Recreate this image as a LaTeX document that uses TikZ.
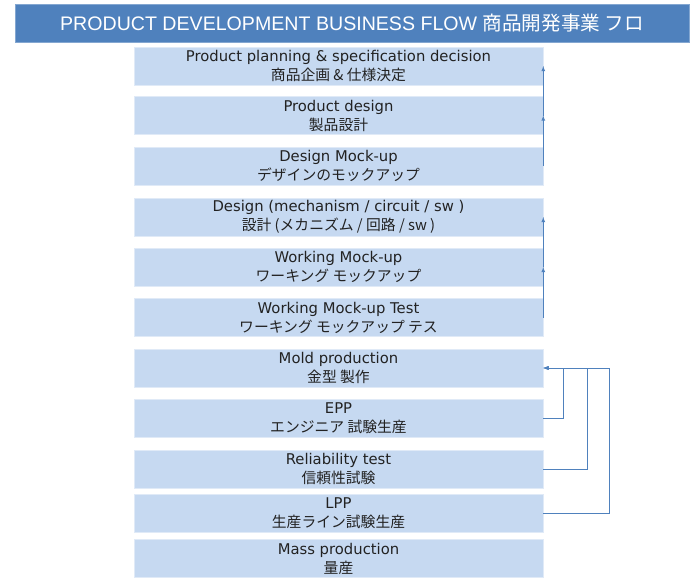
\documentclass[tikz,border=0pt]{standalone}
\usepackage{fontspec}
\setmainfont{Liberation Sans}
\newfontfamily\stepfont{DejaVu Sans}
\newfontfamily\jp{Noto Sans CJK JP}
\usetikzlibrary{arrows}
\definecolor{TitleBlue}{HTML}{4F81BD}
\definecolor{StepBlue}{HTML}{C6D9F1}
\definecolor{LinkBlue}{HTML}{4F81BD}
\definecolor{StepText}{HTML}{222222}
\tikzset{
  TitleBar/.style = {fill=TitleBlue, draw=TitleBlue!70!white, line width=0.8pt,
    minimum width=674pt, minimum height=38pt, inner sep=0pt, text=white,
    font=\fontsize{19.6}{24}\selectfont},
  StepBox/.style = {fill=StepBlue, draw=StepBlue!55!white, line width=0.6pt,
    minimum width=409pt, minimum height=38pt, inner sep=0pt, align=center,
    text=StepText, font=\stepfont\fontsize{14.8}{19}\selectfont},
  Link/.style = {draw=LinkBlue, line width=0.8pt, >=latex}
}

\begin{document}
\begin{tikzpicture}[x=1pt,y=-1pt]
   \useasboundingbox (0,0) rectangle (697,582);
   \node[TitleBar] (title) at (352,23) {PRODUCT DEVELOPMENT BUSINESS FLOW {\jp 商品開発事業 フロ}};
   \node[StepBox] (plan)    at (338.5,66)    {Product planning \& specification decision\\{\jp 商品企画 \& 仕様決定}};
   \node[StepBox] (pdesign) at (338.5,115.5) {Product design\\{\jp 製品設計}};
   \node[StepBox] (dmock)   at (338.5,166)   {Design Mock-up\\{\jp デザインのモックアップ}};
   \node[StepBox] (design)  at (338.5,217)   {Design (mechanism / circuit / sw )\\{\jp 設計 (メカニズム / 回路 / sw )}};
   \node[StepBox] (wmock)   at (338.5,267)   {Working Mock-up\\{\jp ワーキング モックアップ}};
   \node[StepBox] (wtest)   at (338.5,317.5) {Working Mock-up Test\\{\jp ワーキング モックアップ テス}};
   \node[StepBox] (mold)    at (338.5,368)   {Mold production\\{\jp 金型 製作}};
   \node[StepBox] (epp)     at (338.5,418.5) {EPP\\{\jp エンジニア 試験生産}};
   \node[StepBox] (rtest)   at (338.5,469)   {Reliability test\\{\jp 信頼性試験}};
   \node[StepBox] (lpp)     at (338.5,513)   {LPP\\{\jp 生産ライン試験生産}};
   \node[StepBox] (mass)    at (338.5,558.5) {Mass production\\{\jp 量産}};
   \draw[Link,->] (dmock.east) -- (pdesign.east);
   \draw[Link,->] (pdesign.east) -- (plan.east);
   \draw[Link,->] (wtest.east) -- (wmock.east);
   \draw[Link,->] (wmock.east) -- (design.east);
   \draw[Link,->] (epp.east) -- ++(20,0) |- (mold.east);
   \draw[Link,->] (rtest.east) -- ++(44,0) |- (mold.east);
   \draw[Link,->] (lpp.east) -- ++(66,0) |- (mold.east);
\end{tikzpicture}
\end{document}
